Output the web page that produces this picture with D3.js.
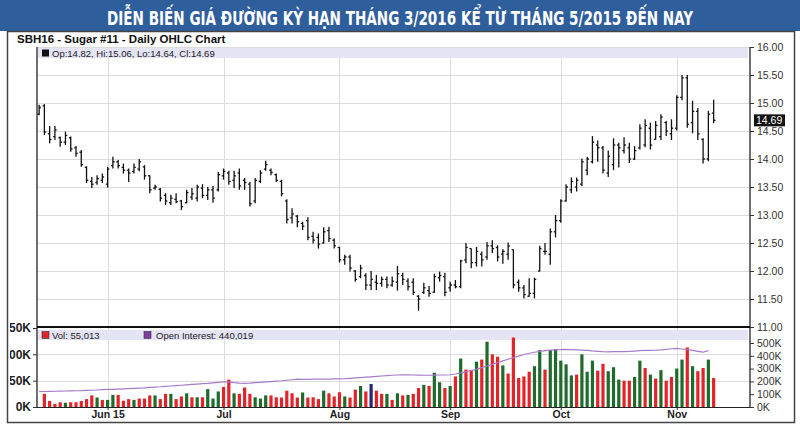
<!DOCTYPE html>
<html>
<head>
<meta charset="utf-8">
<script src="https://cdn.jsdelivr.net/npm/d3@7"></script>
<style>
  body { margin: 0; background: #fff; }
  svg { display: block; }
  text { font-family: "Liberation Sans", Arial, sans-serif; }
</style>
</head>
<body>
<svg id="chart" width="800" height="427"></svg>
<script>
//------------------- Data ----------------------------------------

var titre = "DIỄN BIẾN GIÁ ĐƯỜNG KỲ HẠN THÁNG 3/2016 KỂ TỪ THÁNG 5/2015 ĐẾN NAY";
var sousTitre = "SBH16 - Sugar #11 - Daily OHLC Chart";
var legendePrix = "Op:14.82, Hi:15.06, Lo:14.64, Cl:14.69";
var dernierPrix = 14.69;

// one entry per trading day, mid May 2015 -> Nov 11 2015
var opens = [14.80,14.95,14.45,14.40,14.38,14.30,14.38,14.20,14.12,13.85,13.60,13.58,13.62,13.55,13.88,13.95,13.85,13.80,13.78,13.82,
  13.86,13.70,13.48,13.46,13.35,13.22,13.28,13.25,13.22,13.32,13.30,13.48,13.35,13.45,13.45,13.70,13.75,13.62,13.75,13.62,
  13.55,13.25,13.60,13.82,13.80,13.72,13.60,13.25,12.95,12.98,12.85,12.90,12.62,12.60,12.50,12.72,12.55,12.42,12.20,12.25,
  12.00,11.90,11.92,11.75,11.80,11.78,11.85,11.75,11.80,11.92,11.82,11.80,11.55,11.62,11.65,11.62,11.88,11.90,11.70,11.75,
  11.72,12.20,12.40,12.15,12.30,12.25,12.45,12.42,12.30,12.30,12.38,11.80,11.70,11.55,11.60,12.00,12.35,12.30,12.70,12.90,
  13.25,13.45,13.50,13.55,13.80,13.95,14.25,14.20,13.75,13.90,14.25,14.15,14.20,14.00,14.20,14.25,14.55,14.35,14.40,14.65,
  14.45,14.55,15.10,15.45,14.65,14.85,14.35,14.00,14.82];
var highs = [14.97,14.98,14.59,14.59,14.40,14.49,14.40,14.23,14.16,13.87,13.68,13.71,13.74,13.86,14.04,13.98,13.92,13.83,13.92,14.00,
  13.89,13.71,13.54,13.48,13.39,13.36,13.39,13.27,13.45,13.48,13.54,13.55,13.50,13.52,13.77,13.83,13.79,13.79,13.83,13.66,
  13.59,13.66,13.80,13.97,13.83,13.74,13.63,13.28,13.12,13.00,12.88,12.96,12.70,12.67,12.78,12.79,12.58,12.43,12.29,12.29,
  12.02,12.11,11.96,12.00,11.93,11.90,11.90,11.90,12.09,11.97,11.87,11.87,11.57,11.79,11.73,11.95,11.99,11.97,11.81,11.84,
  12.20,12.50,12.40,12.43,12.35,12.52,12.55,12.46,12.39,12.51,12.38,11.85,11.75,11.87,11.88,12.45,12.50,12.76,13.00,13.28,
  13.55,13.67,13.67,14.01,14.04,14.41,14.33,14.23,14.15,14.37,14.29,14.39,14.29,14.23,14.62,14.71,14.65,14.68,14.80,14.68,
  14.71,15.14,15.50,15.50,15.04,14.91,14.37,14.86,15.06];
var lows = [14.78,14.43,14.28,14.34,14.22,14.25,14.13,14.04,13.86,13.57,13.48,13.54,13.57,13.49,13.83,13.83,13.74,13.59,13.74,13.78,
  13.63,13.39,13.45,13.24,13.18,13.18,13.21,13.09,13.21,13.27,13.24,13.30,13.27,13.22,13.42,13.63,13.54,13.48,13.45,13.45,
  13.15,13.21,13.57,13.79,13.71,13.59,13.33,12.85,12.85,12.78,12.73,12.55,12.49,12.40,12.49,12.52,12.40,12.15,12.11,11.99,
  11.81,11.87,11.66,11.66,11.66,11.72,11.69,11.72,11.65,11.75,11.65,11.57,11.29,11.59,11.54,11.61,11.81,11.55,11.63,11.69,
  11.69,12.14,12.05,12.08,12.08,12.20,12.32,12.17,12.13,12.20,11.69,11.63,11.51,11.54,11.51,11.99,12.29,12.11,12.60,12.86,
  13.24,13.39,13.42,13.52,13.71,13.92,13.95,13.74,13.68,13.80,13.85,14.10,13.93,13.98,14.17,14.21,14.17,14.35,14.34,14.41,
  14.34,14.51,15.05,14.56,14.46,14.34,13.92,13.96,14.64];
var closes = [14.92,14.48,14.35,14.52,14.30,14.42,14.18,14.10,13.90,13.62,13.55,13.65,13.68,13.82,13.95,13.88,13.80,13.75,13.85,13.95,
  13.70,13.45,13.50,13.30,13.25,13.30,13.24,13.15,13.40,13.38,13.50,13.35,13.45,13.30,13.72,13.78,13.60,13.70,13.52,13.58,
  13.20,13.62,13.75,13.90,13.76,13.62,13.38,12.92,13.02,12.88,12.80,12.60,12.55,12.48,12.70,12.58,12.45,12.20,12.25,12.05,
  11.85,12.05,11.75,11.85,11.78,11.85,11.75,11.82,11.95,11.85,11.72,11.62,11.50,11.70,11.60,11.90,11.92,11.62,11.75,11.72,
  12.18,12.42,12.15,12.35,12.20,12.45,12.40,12.25,12.35,12.45,11.75,11.70,11.58,11.60,11.85,12.40,12.35,12.70,12.90,13.25,
  13.50,13.60,13.62,13.95,14.00,14.30,14.20,13.80,14.05,14.25,14.20,14.25,14.00,14.15,14.55,14.60,14.25,14.60,14.75,14.50,
  14.55,15.10,15.45,14.62,14.85,14.45,14.00,14.80,14.69];

// volume in thousands, u = up, d = down, n = unchanged
var volumes = [0,25,11.5,6,9,8,9,9,11.5,15,22,18,13.5,13.5,23,23,12,15,13.5,16,
  16,22,22,15,25,25,15,20,26,18.5,18.5,18.5,34,16,29.5,38,52,26,25,37,
  25,18.5,16,22,22,18.5,18,31,26,18,27.5,18,18.5,15,31,26,20,28,20,18,
  33,40,29.5,43.6,31,25,25,13.5,26,22,23,25,36,42,40,65,47,36,40,58,
  92,71,70,86,90,124,100,95.5,79,63.5,132,55,58,67,77.5,108,71,108,110,88,
  81,60,61.5,100,67,88,69,82,68,75.6,52,50,50,57,88,74,61.5,54,70,50,
  57,73,90,113,77.5,68,74,90,55.013];
var volDir = ["d","d","d","d","d","u","d","d","d","d","d","u","d","u","u","d","d","d","u","d",
  "d","d","u","d","d","u","d","d","u","d","u","d","u","u","u","d","d","u","d","d",
  "d","u","u","u","d","d","d","d","d","d","u","d","d","d","u","d","d","d","u","d",
  "d","u","d","n","d","d","u","d","u","d","u","d","d","u","d","u","u","d","u","d",
  "u","d","d","u","d","u","d","d","u","d","d","d","d","d","u","u","d","u","u","u",
  "u","u","d","u","u","u","d","d","u","u","u","d","d","u","u","d","u","d","u","d",
  "d","u","u","d","u","d","d","u","d"];

// open interest in thousands (reported one day behind)
var openInterest = [120,121,122,123,124,125,126,127,128,130,131,133,135,137,138,140,142,144,146,148,
  150,153,156,158,161,164,167,170,173,176,179,182,185,189,193,197,196,190,186,185,
  187,190,193,196,199,202,205,209,213,217,216,216,217,217,218,218,219,219,221,224,
  227,230,233,236,239,242,245,248,250,251,251,250,249,248,248,249,250,250,252,258,
  266,275,285,296,308,320,333,346,360,373,386,398,410,420,428,435,440,444,446,448,
  450,449,447,445,442,438,435,432,431,432,433,432,434,437,440,442,443,444,446,450,
  455,458,453,448,442,435,428,440];
var dernierOI = 440019;

var monthLabels = ["Jun 15", "Jul", "Aug", "Sep", "Oct", "Nov"];
var monthIdx = [13, 35, 57, 78, 99, 121];
var priceTicks = [11, 11.5, 12, 12.5, 13, 13.5, 14, 14.5, 15, 15.5, 16];
var volTicks = [0, 50, 100, 150];
var oiTicks = [0, 100, 200, 300, 400, 500];

//------------------- Scales ----------------------------------------

var svg = d3.select("#chart");
var gauche = 37, droite = 750;

var x = d3.scaleLinear().domain([-0.4, 134.9]).range([gauche, droite]);
var yP = d3.scaleLinear().domain([11, 16]).range([327, 47]);
var yV = d3.scaleLinear().domain([0, 150]).range([407, 328]);
var yOI = d3.scaleLinear().domain([0, 500]).range([407, 343]);

var couleurs = { u: "#1f6b2c", d: "#e0242a", n: "#27276e" };

//------------------- Title + frame ----------------------------------------

svg.append("rect").attr("x", 0).attr("y", 0).attr("width", 800).attr("height", 31).attr("fill", "#2f5e9c");
svg.append("text")
    .attr("x", 400).attr("y", 25)
    .attr("text-anchor", "middle")
    .attr("fill", "#fff")
    .style("font-family", "'DejaVu Sans Condensed', 'Liberation Sans Narrow', sans-serif")
    .style("font-weight", "bold")
    .style("font-size", "19px")
    .attr("textLength", 586)
    .attr("lengthAdjust", "spacingAndGlyphs")
    .text(titre);

svg.append("rect").attr("x", 7.5).attr("y", 31.5).attr("width", 787).attr("height", 391)
    .attr("fill", "none").attr("stroke", "#444").attr("stroke-width", 1.5);

svg.append("text").attr("x", 17).attr("y", 43)
    .style("font-size", "11.5px").style("font-weight", "bold").attr("fill", "#111")
    .text(sousTitre);

//------------------- Grid ----------------------------------------

var grille = svg.append("g").attr("stroke", "#dcdcdc").attr("stroke-width", 1);
grille.selectAll(".h").data(priceTicks).join("line")
    .attr("x1", gauche).attr("x2", droite)
    .attr("y1", d => Math.round(yP(d)) + 0.5).attr("y2", d => Math.round(yP(d)) + 0.5);
grille.selectAll(".hv").data([50, 100]).join("line")
    .attr("x1", gauche).attr("x2", droite)
    .attr("y1", d => Math.round(yV(d)) + 0.5).attr("y2", d => Math.round(yV(d)) + 0.5);
grille.selectAll(".v").data(monthIdx).join("line")
    .attr("x1", d => Math.round(x(d)) + 0.5).attr("x2", d => Math.round(x(d)) + 0.5)
    .attr("y1", 47).attr("y2", 407);

// legend bands
svg.append("rect").attr("x", gauche + 1).attr("y", 48).attr("width", droite - gauche - 3).attr("height", 10).attr("fill", "#e4e4f4");
svg.append("rect").attr("x", gauche + 1).attr("y", 330).attr("width", droite - gauche - 3).attr("height", 10).attr("fill", "#e4e4f4");

svg.append("rect").attr("x", 42).attr("y", 49.5).attr("width", 7).attr("height", 7).attr("fill", "#111");
svg.append("text").attr("x", 52).attr("y", 56.5).style("font-size", "9.5px").attr("fill", "#222").text(legendePrix);

svg.append("rect").attr("x", 42).attr("y", 331.5).attr("width", 7).attr("height", 7).attr("fill", "#e0242a").attr("stroke", "#333").attr("stroke-width", 0.6);
svg.append("text").attr("x", 52).attr("y", 338.5).style("font-size", "9.5px").attr("fill", "#222")
    .text("Vol: " + d3.format(",")(Math.round(volumes[volumes.length - 1] * 1000)));
svg.append("rect").attr("x", 144).attr("y", 331.5).attr("width", 7).attr("height", 7).attr("fill", "#7e3f9e").attr("stroke", "#333").attr("stroke-width", 0.6);
svg.append("text").attr("x", 156).attr("y", 338.5).style("font-size", "9.5px").attr("fill", "#222")
    .text("Open Interest: " + d3.format(",")(dernierOI));

//------------------- OHLC bars ----------------------------------------

var barres = svg.append("g").attr("stroke", "#111").attr("stroke-width", 1.3);
highs.forEach(function(h, i) {
    var cx = x(i);
    barres.append("line").attr("x1", cx).attr("x2", cx).attr("y1", yP(h)).attr("y2", yP(lows[i]));
    barres.append("line").attr("x1", cx - 1.8).attr("x2", cx).attr("y1", yP(opens[i])).attr("y2", yP(opens[i]));
    barres.append("line").attr("x1", cx).attr("x2", cx + 1.8).attr("y1", yP(closes[i])).attr("y2", yP(closes[i]));
});

//------------------- Volume + open interest ----------------------------------------

svg.append("g").selectAll("rect").data(volumes).join("rect")
    .attr("x", (d, i) => x(i) - 1.6)
    .attr("width", 3.2)
    .attr("y", d => yV(d))
    .attr("height", d => 407 - yV(d))
    .attr("fill", (d, i) => couleurs[volDir[i]]);

svg.append("path")
    .datum(openInterest)
    .attr("fill", "none")
    .attr("stroke", "#a77cc8")
    .attr("stroke-width", 1.2)
    .attr("d", d3.line().x((d, i) => x(i)).y(d => yOI(d)));

//------------------- Axes ----------------------------------------

// panel borders
svg.append("line").attr("x1", gauche).attr("x2", gauche).attr("y1", 47).attr("y2", 407).attr("stroke", "#222").attr("stroke-width", 1.3);
svg.append("line").attr("x1", droite).attr("x2", droite).attr("y1", 47).attr("y2", 407).attr("stroke", "#222").attr("stroke-width", 1.3);
svg.append("line").attr("x1", gauche).attr("x2", droite).attr("y1", 327).attr("y2", 327).attr("stroke", "#111").attr("stroke-width", 2);
svg.append("line").attr("x1", gauche).attr("x2", droite).attr("y1", 407.5).attr("y2", 407.5).attr("stroke", "#222").attr("stroke-width", 1);

var axePrix = svg.append("g").attr("transform", "translate(" + droite + ",0)")
    .call(d3.axisRight(yP).tickValues(priceTicks).tickFormat(d3.format(".2f")).tickSize(4).tickPadding(3));
var axeOI = svg.append("g").attr("transform", "translate(" + droite + ",0)")
    .call(d3.axisRight(yOI).tickValues(oiTicks).tickFormat(d => d + "K").tickSize(4).tickPadding(3));

// left volume axis, its labels are cut by the frame like in the original
svg.append("defs").append("clipPath").attr("id", "clipGauche")
    .append("rect").attr("x", 10).attr("y", 300).attr("width", 40).attr("height", 120);
var axeVol = svg.append("g").attr("clip-path", "url(#clipGauche)")
    .append("g").attr("transform", "translate(" + gauche + ",0)")
    .call(d3.axisLeft(yV).tickValues(volTicks).tickFormat(d => d + "K").tickSize(4).tickPadding(2));

[axePrix, axeOI, axeVol].forEach(function(a) {
    a.select(".domain").remove();
    a.selectAll("text").style("font-size", "10.5px").attr("fill", "#333").style("font-family", "'Liberation Sans', Arial, sans-serif");
    a.selectAll("line").attr("stroke", "#333");
});
axeVol.selectAll("text").style("font-size", "12px").style("font-weight", "bold").attr("fill", "#222");

// last price marker
svg.append("rect").attr("x", 754).attr("y", yP(dernierPrix) - 6).attr("width", 31).attr("height", 12).attr("fill", "#111");
svg.append("text").attr("x", 756).attr("y", yP(dernierPrix) + 4).style("font-size", "10.5px").attr("fill", "#fff")
    .text(d3.format(".2f")(dernierPrix));

var axeMois = svg.append("g").attr("transform", "translate(0,407)")
    .call(d3.axisBottom(x).tickValues(monthIdx).tickFormat((d, i) => monthLabels[i]).tickSize(3).tickPadding(1));
axeMois.select(".domain").remove();
axeMois.selectAll("text").style("font-size", "10.5px").style("font-weight", "bold").attr("fill", "#222")
    .style("font-family", "'Liberation Sans', Arial, sans-serif");
axeMois.selectAll("line").attr("stroke", "#333");
</script>
</body>
</html>
